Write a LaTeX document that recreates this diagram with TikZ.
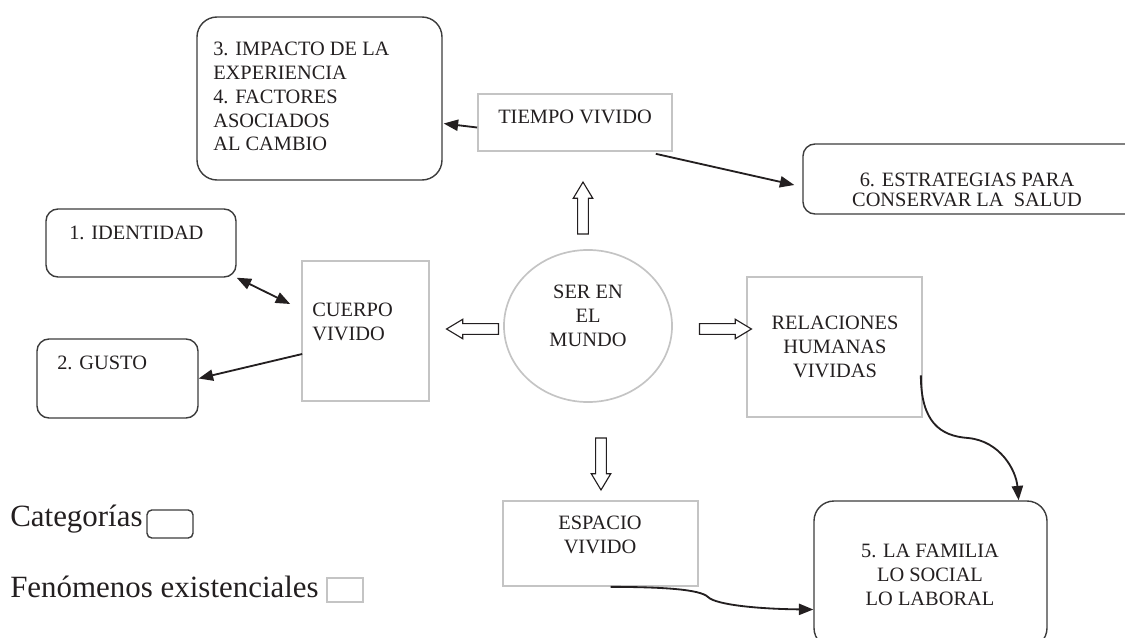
\documentclass[tikz,border=0pt]{standalone}
\usepackage{fontspec}
\setmainfont{Liberation Serif}
\usetikzlibrary{calc,
	positioning,
	fit,
	shapes,
	arrows.meta}
\definecolor{ink}{HTML}{231F20}
\definecolor{catline}{HTML}{3C3C3C}
\definecolor{fenline}{HTML}{C4C4C4}
\tikzstyle{cat}=[draw=catline, line width=1pt, inner sep=0, rounded corners=0.3cm]
\tikzstyle{fen}=[draw=fenline, line width=1.2pt, inner sep=0]
\tikzstyle{lbl}=[inner sep=0, text=ink, font=\fontsize{14.5}{17}\selectfont]
\tikzstyle{leg}=[inner sep=0, text=ink, font=\fontsize{22}{26}\selectfont]
\tikzstyle{conn}=[draw=ink, line width=1.3pt, -{Triangle[length=0.36cm, width=0.28cm]}]
\tikzstyle{dconn}=[draw=ink, line width=1.3pt, {Triangle[length=0.36cm, width=0.28cm]}-{Triangle[length=0.36cm, width=0.28cm]}]
\tikzstyle{hol}=[single arrow, draw=ink, line width=0.8pt, fill=white,
		inner xsep=0, inner ysep=0.12cm, minimum height=1.3cm,
		single arrow head extend=0.11cm, single arrow tip angle=62]

\begin{document}
\begin{tikzpicture}[x=0.025cm, y=-0.025cm]
        \useasboundingbox (0,0) rectangle (1125,638);
        \node[cat, rounded corners=0.5cm, fit={(197,17) (442,180)}] (imp) {};
        \node[lbl, anchor=west, align=left] (imp-t) at (213,96.5) {3. IMPACTO DE LA\\EXPERIENCIA\\4. FACTORES\\ASOCIADOS\\AL CAMBIO};
        \node[fen, fit={(478,94) (672,151)}] (tie) {};
        \node[lbl] (tie-t) at (575,117) {TIEMPO VIVIDO};
        \node[cat, fit={(803,144) (1140,214)}] (est) {};
        \node[lbl, align=center, font=\fontsize{14.5}{14.5}\selectfont] (est-t) at (967,190) {6. ESTRATEGIAS PARA\\CONSERVAR LA\ \ SALUD};
        \node[cat, fit={(46,209) (236,277)}] (ide) {};
        \node[lbl, anchor=west] (ide-t) at (69,233) {1. IDENTIDAD};
        \node[cat, fit={(37,339) (198,418)}] (gus) {};
        \node[lbl, anchor=west] (gus-t) at (57,363) {2. GUSTO};
        \node[fen, fit={(302,261) (429,401)}] (cue) {};
        \node[lbl, anchor=west, align=left] (cue-t) at (312,321.5) {CUERPO\\VIVIDO};
        \node[fen, ellipse, minimum width=4.2cm, minimum height=3.8cm] (ser) at (588,326) {};
        \node[lbl, align=center] (ser-t) at (588,315.5) {SER EN\\EL\\MUNDO};
        \node[fen, fit={(747,277) (922,417)}] (rel) {};
        \node[lbl, align=center] (rel-t) at (835,346.5) {RELACIONES\\HUMANAS\\VIVIDAS};
        \node[fen, fit={(503,501) (698,586)}] (esp) {};
        \node[lbl, align=center] (esp-t) at (600,535) {ESPACIO\\VIVIDO};
        \node[cat, rounded corners=0.5cm, fit={(814,501) (1047,648)}] (fam) {};
        \node[lbl, align=center] (fam-t) at (930,574.5) {5. LA FAMILIA\\LO SOCIAL\\LO LABORAL};
        \node[hol, rotate=90] (up) at (583,212.5) {};
        \node[hol, rotate=-90] (down) at (601,459.5) {};
        \node[hol, rotate=180] (left) at (477,329) {};
        \node[hol] (right) at (721,329) {};
        \draw[conn] ($(tie.west)+(0,5)$) -- ($(imp.east)+(1,25)$);
        \draw[conn] ($(tie.south east)+(-17,2)$) -- ($(est.west)+(-8,6)$);
        \draw[dconn] (ide.south east) -- ($(cue.west)+(-11,-27)$);
        \draw[conn] ($(cue.west)+(1,23)$) -- (gus.east);
        \draw[conn] ($(rel.south east)!0.3!(rel.north east)+(-2,0)$) .. controls (921,422) and (940,436) .. (968,438) .. controls (1000,441) and (1016,470) .. ($(fam.north west)!0.876!(fam.north east)$);
        \draw[conn] ($(esp.south)+(10,0)$) .. controls (660,587) and (700,589) .. (708,597) .. controls (716,605) and (760,609) .. ($(fam.west)+(0,35)$);
        \node[leg, anchor=base west] (cat-t) at (10,526) {Categorías};
        \node[cat, rounded corners=0.12cm, fit={(147,510) (193,538)}] (cat-b) {};
        \node[leg, anchor=base west] (fen-t) at (10,597) {Fenómenos existenciales};
        \node[fen, fit={(327,578) (363,602)}] (fen-b) {};
\end{tikzpicture}
\end{document}
